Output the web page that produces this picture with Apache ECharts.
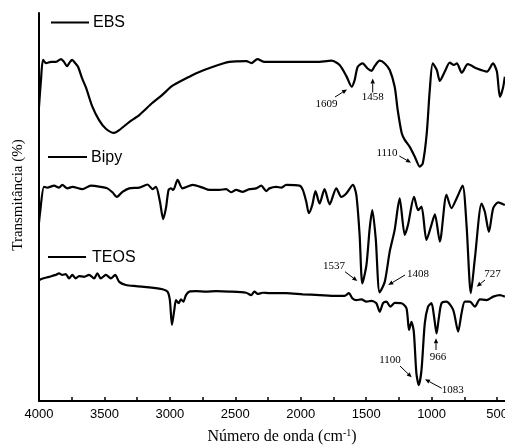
<!DOCTYPE html>
<html><head><meta charset="utf-8">
<script src="https://cdn.jsdelivr.net/npm/echarts@6/dist/echarts.min.js"></script>
<style>html,body{margin:0;padding:0;background:#fff}#c{width:505px;height:447px}</style>
</head><body><div id="c"></div>
<script>
const ebsWavenumber = [4000,3985,3969,3946,3908,3870,3832,3809,3786,3763,3747,3724,3701,3671,3640,3594,3541,3487,3426,3387,3311,3234,3135,3058,2982,2874,2798,2675,2545,2415,2377,2331,2277,2139,1879,1764,1703,1649,1611,1588,1565,1527,1489,1458,1435,1397,1358,1320,1282,1259,1228,1205,1167,1129,1090,1067,1037,1014,991,960,937,899,861,830,807,769,723,654,577,531,501,478,455,440];
const ebsTransmittance = [75.8,82.7,87.9,87.1,87.4,87.4,88.1,87.4,86.3,87.4,87.9,87.1,86.1,83.2,80.7,76.0,72.4,70.1,69.1,69.8,71.9,73.7,76.8,78.9,81.2,83.2,84.5,86.1,87.4,87.6,87.1,88.1,87.4,87.4,87.4,87.7,86.6,83.6,81.0,82.7,86.1,87.0,85.7,85.1,86.3,87.7,87.0,85.3,81.0,75.0,69.0,67.3,65.5,63.0,60.4,61.3,69.0,80.1,87.0,85.3,82.5,84.9,87.2,86.6,87.0,84.6,86.8,85.7,84.9,87.0,84.9,78.4,80.6,83.6];

const bipyWavenumber = [4000,3992,3962,3936,3885,3847,3822,3783,3745,3668,3604,3528,3477,3439,3405,3362,3311,3234,3171,3132,3106,3076,3051,3030,3010,2992,2974,2941,2903,2826,2750,2698,2622,2570,2532,2494,2443,2392,2341,2302,2264,2239,2188,2149,2111,2009,1984,1958,1938,1912,1887,1856,1818,1779,1728,1690,1652,1601,1575,1550,1529,1498,1473,1453,1427,1397,1358,1320,1282,1244,1205,1180,1134,1103,1077,1039,1001,975,937,886,848,809,763,733,700,669,618,593,562,529,491,440];
const bipyTransmittance = [46.0,48.5,55.2,55.0,55.5,55.0,55.7,54.8,55.2,54.6,55.5,55.2,54.8,53.8,52.6,53.9,54.8,55.0,55.8,54.6,55.2,51.4,46.9,49.7,54.4,54.8,54.4,57.0,54.8,55.7,55.0,54.4,54.4,54.6,53.8,54.4,53.9,54.6,54.8,55.5,54.1,54.8,55.2,55.0,55.7,55.5,54.4,51.4,48.4,50.5,54.1,50.9,54.6,50.7,54.8,52.6,53.5,55.7,53.1,42.8,30.3,35.0,44.5,49.2,41.9,28.0,30.7,38.5,44.1,52.2,42.8,45.4,52.6,49.2,50.1,41.5,45.4,48.1,41.1,53.1,49.7,52.2,55.5,45.4,27.8,36.8,50.9,48.8,43.6,49.7,51.2,50.5];

const teosWavenumber = [4000,3987,3923,3872,3847,3822,3796,3770,3745,3719,3694,3655,3617,3579,3554,3528,3489,3451,3418,3387,3336,3260,3158,3056,3018,3000,2984,2966,2953,2933,2915,2897,2877,2851,2800,2724,2647,2545,2417,2379,2354,2328,2290,2239,2111,1984,1856,1728,1665,1632,1606,1575,1537,1498,1460,1422,1397,1371,1345,1315,1282,1230,1192,1172,1154,1136,1116,1098,1077,1052,1027,1001,981,962,945,924,886,835,797,771,746,708,669,631,580,529,478,440];
const teosTransmittance = [31.0,31.4,32.0,32.5,32.9,32.5,32.7,31.6,32.5,31.6,32.2,32.0,32.5,31.6,32.9,31.6,32.5,31.6,32.5,30.7,29.9,29.6,29.3,28.8,28.2,26.0,19.6,23.5,26.0,25.2,26.2,25.6,27.3,28.2,28.3,28.2,28.3,28.2,27.9,27.3,28.2,27.6,27.9,27.8,27.8,27.5,27.3,27.1,27.1,27.8,26.5,26.0,26.2,25.6,25.8,25.2,23.0,25.2,25.6,24.3,25.3,25.2,23.9,18.3,20.4,17.9,7.1,4.1,8.0,20.0,24.3,25.2,21.7,17.4,21.3,25.2,25.6,23.5,17.9,22.6,25.6,25.6,24.3,26.2,26.0,26.9,27.3,26.9];

const xTickLabels = [500,1000,1500,2000,2500,3000,3500,4000];
const xTickMarks = [500,750,1000,1250,1500,1750,2000,2250,2500,2750,3000,3250,3500,3750,4000];

const seriesNames = ['EBS','Bipy','TEOS'];
const peakLabels = ['1609','1458','1110','1537','1408','727','966','1100','1083'];

function zip(a,b){return a.map((v,i)=>[v,b[i]]);}

const chart = echarts.init(document.getElementById('c'), null, {renderer:'canvas'});

function arrow(x1,y1,x2,y2){
  const a=Math.atan2(y2-y1,x2-x1), L=5, W=2.2;
  const bx=x2-L*Math.cos(a), by=y2-L*Math.sin(a);
  return [
    {type:'line',shape:{x1:x1,y1:y1,x2:bx,y2:by},style:{stroke:'#000',lineWidth:1}},
    {type:'polygon',shape:{points:[[x2,y2],[bx-W*Math.sin(a),by+W*Math.cos(a)],[bx+W*Math.sin(a),by-W*Math.cos(a)]]},style:{fill:'#000'}}
  ];
}
function txt(x,y,t,font,align){
  return {type:'text',x:x,y:y,style:{text:t,fill:'#000',font:font,align:align||'center',verticalAlign:'middle'}};
}
const serif11 = '11px "Liberation Serif", "Times New Roman", serif';
const sans16 = '16px "Liberation Sans", Arial, sans-serif';

const graphics = [];
[[51,89,22.5,93,seriesNames[0]],[48,87,157,91,seriesNames[1]],[48,86,257,92,seriesNames[2]]].forEach(l=>{
  graphics.push({type:'line',shape:{x1:l[0],y1:l[2],x2:l[1],y2:l[2]},style:{stroke:'#000',lineWidth:2}});
  graphics.push(txt(l[3],l[2]+0.5,l[4],sans16,'left'));
});
const ann = [
  [326.5,104,peakLabels[0],[335,97,347,89.5]],
  [372.7,97.5,peakLabels[1],[372.7,92.5,372.7,78.5]],
  [387,153.5,peakLabels[2],[399.3,156,411,162.7]],
  [334,266,peakLabels[3],[345,271.7,357.3,281]],
  [418,274.5,peakLabels[4],[405,275,388.3,285]],
  [492.5,274.5,peakLabels[5],[485,280,476.7,286.7]],
  [438,357.5,peakLabels[6],[436,350,436,338.3]],
  [390,360.5,peakLabels[7],[400,366,411.7,377.3]],
  [452.7,390.3,peakLabels[8],[441.7,388.3,425,379.3]]
];
ann.forEach(a=>{
  graphics.push(txt(a[0],a[1],a[2],serif11));
  arrow(a[3][0],a[3][1],a[3][2],a[3][3]).forEach(g=>graphics.push(g));
});
graphics.push({type:'text',x:18,y:195,rotation:Math.PI/2,style:{text:'Transmitância (%)',fill:'#000',font:'15px "Liberation Serif", serif',align:'center',verticalAlign:'middle'}});
graphics.push({type:'text',x:282,y:437,style:{text:'Número de onda (cm{s|-1})',fill:'#000',font:'16px "Liberation Serif", serif',align:'center',verticalAlign:'middle',
  rich:{s:{fontSize:10,fontFamily:'Liberation Serif',padding:[0,0,8,0]}}}});

const lineStyle = {color:'#000',width:2.2};
chart.setOption({
  animation:false,
  backgroundColor:'#fff',
  grid:{left:39,right:0,top:13,bottom:46,containLabel:false,outerBoundsMode:'none'},
  xAxis:[{
    type:'value',inverse:true,min:439,max:4000,position:'bottom',
    axisLine:{show:true,onZero:false,lineStyle:{color:'#000',width:2}},
    axisTick:{show:true,inside:true,length:4,customValues:xTickMarks,lineStyle:{color:'#000',width:1.5}},
    axisLabel:{show:true,customValues:xTickLabels,margin:7,color:'#000',fontSize:13,fontFamily:'"Liberation Sans", Arial, sans-serif',formatter:function(v){return String(v);},hideOverlap:false},
    splitLine:{show:false}
  },{
    type:'value',inverse:true,min:439,max:4000,position:'top',
    axisLine:{show:true,lineStyle:{color:'#000',width:2}},
    axisTick:{show:false},axisLabel:{show:false},splitLine:{show:false}
  }],
  yAxis:{
    type:'value',min:0,max:100,
    axisLine:{show:true,lineStyle:{color:'#000',width:2}},
    axisTick:{show:false},axisLabel:{show:false},splitLine:{show:false}
  },
  series:[
    {name:seriesNames[0],type:'line',data:zip(ebsWavenumber,ebsTransmittance),showSymbol:false,smooth:0.25,lineStyle:lineStyle,z:3},
    {name:seriesNames[1],type:'line',data:zip(bipyWavenumber,bipyTransmittance),showSymbol:false,smooth:0.25,lineStyle:lineStyle,z:3},
    {name:seriesNames[2],type:'line',data:zip(teosWavenumber,teosTransmittance),showSymbol:false,smooth:0.25,lineStyle:lineStyle,z:3}
  ],
  graphic:graphics
});
</script></body></html>
